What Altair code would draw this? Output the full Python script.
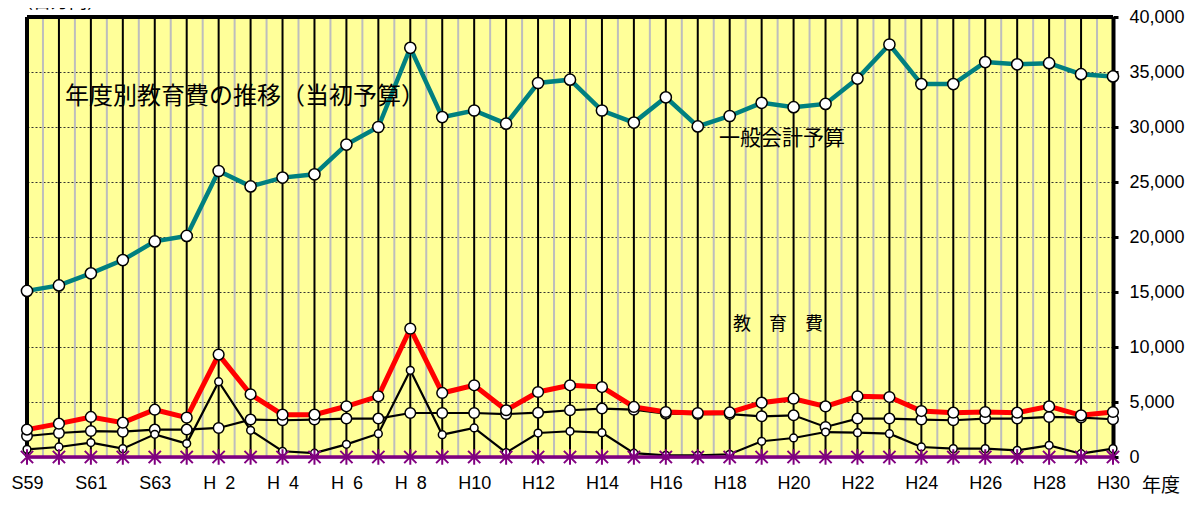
import json
import altair as alt
import pandas as pd

# ---- data ----
years = ["S59", "S60", "S61", "S62", "S63",
         "H\u20021", "H\u20022", "H\u20023", "H\u20024", "H\u20025", "H\u20026", "H\u20027", "H\u20028", "H\u20029",
         "H10", "H11", "H12", "H13", "H14", "H15", "H16", "H17", "H18", "H19", "H20",
         "H21", "H22", "H23", "H24", "H25", "H26", "H27", "H28", "H29", "H30"]

general_budget = [15100, 15600, 16700, 17900, 19600, 20100, 26000, 24600, 25400, 25700,
                  28400, 30000, 37200, 30900, 31500, 30300, 34000, 34300, 31500, 30400,
                  32700, 30050, 31000, 32200, 31800, 32100, 34400, 37500, 33900, 33900,
                  35900, 35700, 35800, 34800, 34600]

education = [2490, 3030, 3640, 3120, 4300, 3580, 9310, 5700, 3850, 3850,
             4610, 5520, 11670, 5820, 6520, 4250, 5910, 6520, 6360, 4550,
             4090, 4000, 4050, 4940, 5300, 4600, 5520, 5450, 4180, 4030,
             4090, 4030, 4600, 3790, 4090]

series_c = [1910, 2180, 2360, 2300, 2490, 2490, 2640, 3400, 3340, 3400,
            3490, 3490, 4000, 4000, 4000, 3900, 4030, 4250, 4400, 4300,
            3940, 3900, 3900, 3700, 3790, 2730, 3490, 3490, 3400, 3340,
            3490, 3490, 3640, 3580, 3430]

series_d = [700, 910, 1310, 760, 2060, 1220, 6850, 2430, 520, 350,
            1150, 2120, 7880, 2030, 2640, 400, 2180, 2340, 2210, 350,
            150, 150, 250, 1430, 1730, 2270, 2210, 2120, 910, 760,
            760, 610, 1060, 300, 760]

series_e = [0, 0, 0, 0, 0, 0, 0, 0, 0, 0,
            0, 0, 0, 0, 0, 0, 0, 0, 0, 0,
            0, 0, 0, 0, 0, 0, 0, 0, 0, 0,
            0, 0, 0, 0, 0]

y_ticks = [0, 5000, 10000, 15000, 20000, 25000, 30000, 35000, 40000]
x_label_idx = [0, 2, 4, 6, 8, 10, 12, 14, 16, 18, 20, 22, 24, 26, 28, 30, 32, 34]

title_text = "年度別教育費の推移（当初予算）"
general_label = "一般会計予算"
education_label = "教　育　費"
unit_text = "（百万円）"
x_unit_text = "年度"

# ---- layout ----
W, H = 1086, 440
JP = "Noto Sans CJK JP"
NUM = "Liberation Sans"

label_expr = json.dumps(years) + "[datum.value]"

x_enc = alt.X("i:Q",
              scale=alt.Scale(domain=[0, len(years) - 1], nice=False, zero=False),
              axis=alt.Axis(title=None, values=x_label_idx, labelExpr=label_expr,
                            grid=False, ticks=False, domain=True, domainColor="#808080",
                            domainWidth=2, labelFont=NUM, labelFontSize=18,
                            labelColor="black", labelPadding=17, labelFlush=False))

y_enc = alt.Y("v:Q",
              scale=alt.Scale(domain=[0, 40000], nice=False, zero=True),
              axis=alt.Axis(title=None, orient="right", values=y_ticks, format=",.0f",
                            grid=True, gridDash=[2, 2], gridColor="#333333", gridWidth=1,
                            ticks=True, tickColor="black", tickWidth=3, tickSize=5,
                            domain=True, domainColor="black", domainWidth=4,
                            labelFont=NUM, labelFontSize=18, labelColor="black",
                            labelPadding=11))


def frame(vals):
    return pd.DataFrame({"i": list(range(len(years))), "year": years, "v": vals})


df_years = pd.DataFrame({"i": list(range(len(years)))})
df_half = pd.DataFrame({"i": [k + 0.5 for k in range(len(years) - 1)]})

gray_lines = alt.Chart(df_half).mark_rule(color="#BDBDBD", strokeWidth=2).encode(x=x_enc)
black_lines = alt.Chart(df_years).mark_rule(color="black", strokeWidth=2).encode(x=x_enc)

left_border = alt.Chart(pd.DataFrame({"i": [0]})).mark_rule(color="black", strokeWidth=4).encode(x=x_enc)
top_border = alt.Chart(pd.DataFrame({"v": [40000]})).mark_rule(color="black", strokeWidth=4).encode(y=y_enc)


def series(vals, color, lw, msize, mstroke):
    return alt.Chart(frame(vals)).mark_line(
        color=color, strokeWidth=lw,
        point=alt.OverlayMarkDef(filled=True, fill="white", stroke="black",
                                 strokeWidth=mstroke, size=msize, opacity=1)
    ).encode(x=x_enc, y=y_enc)


layer_c = series(series_c, "black", 2.2, 110, 1.5)
layer_d = series(series_d, "black", 2.2, 60, 1.5)
layer_edu = series(education, "#FF0000", 5, 115, 1.5)
layer_gen = series(general_budget, "#008080", 4.5, 125, 1.5)

star = "M-1,-1L1,1M-1,1L1,-1M0,-1.25L0,1.25"
layer_e_line = alt.Chart(frame(series_e)).mark_line(color="#800080", strokeWidth=3.5).encode(x=x_enc, y=y_enc)
layer_e_pts = alt.Chart(frame(series_e)).mark_point(
    shape=star, size=150, stroke="#800080", strokeWidth=2, filled=False, opacity=1
).encode(x=x_enc, y=y_enc)


def label(text, x, y, size, align="left", baseline="middle", font=JP):
    return alt.Chart(pd.DataFrame({"t": [text]})).mark_text(
        font=font, fontSize=size, color="black", align=align, baseline=baseline
    ).encode(text="t:N", x=alt.value(x), y=alt.value(y))


t_title = label(title_text, 38, 80, 24)
t_general = label(general_label, 692, 122, 21)
t_edu = label(education_label, 706, 308, 18)
t_xunit = label(x_unit_text, 1115, 479, 19, baseline="bottom")
t_unit = label(unit_text, -12, -5, 18, baseline="bottom")

chart = alt.layer(
    gray_lines, black_lines, left_border, top_border,
    layer_c, layer_d, layer_edu, layer_gen, layer_e_line, layer_e_pts,
    t_title, t_general, t_edu, t_xunit, t_unit
).properties(
    width=W, height=H,
    autosize=alt.AutoSizeParams(type="none"),
    padding={"left": 19, "top": 9, "right": 76, "bottom": 41}
).configure_view(fill="#FFFF99", stroke=None)

chart.save("out.html", embed_options={"renderer": "svg", "actions": False})
